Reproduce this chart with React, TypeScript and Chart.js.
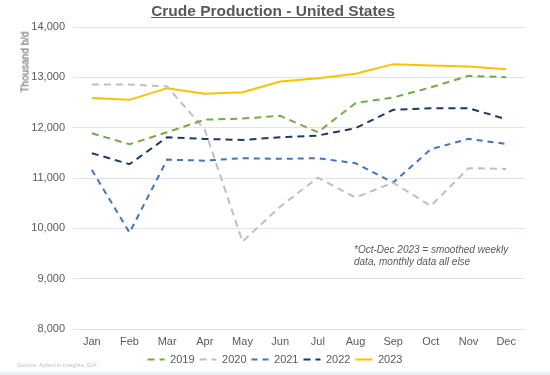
import React, { useEffect, useRef } from "react";
import { Chart, registerables } from "chart.js";

Chart.register(...registerables);

const months = ["Jan", "Feb", "Mar", "Apr", "May", "Jun", "Jul", "Aug", "Sep", "Oct", "Nov", "Dec"];
const years = ["2019", "2020", "2021", "2022", "2023"];
const y2019 = [11890, 11670, 11910, 12160, 12180, 12235, 11910, 12487, 12600, 12800, 13030, 13004];
const y2020 = [12857, 12857, 12817, 11960, 9736, 10431, 11008, 10610, 10909, 10445, 11195, 11181];
const y2021 = [11161, 9915, 11365, 11345, 11394, 11380, 11394, 11294, 10909, 11572, 11777, 11678];
const y2022 = [11493, 11274, 11811, 11777, 11755, 11811, 11843, 11990, 12354, 12388, 12388, 12169];
const y2023 = [12587, 12553, 12785, 12672, 12705, 12917, 12984, 13070, 13262, 13235, 13215, 13163];
const yMin = 8000;
const yMax = 14000;
const yStep = 1000;

const title = "Crude Production - United States";
const yTitle = "Thousand b/d";
const noteLines = ["*Oct-Dec 2023 = smoothed weekly", "data, monthly data all else"];
const source = "Source: Acheron Insights, EIA";

const FONT = "'Liberation Sans', Arial, Helvetica, sans-serif";
const TEXT = "#595959";

export default function App() {
  const ref = useRef<HTMLCanvasElement | null>(null);

  useEffect(() => {
    if (!ref.current) return;
    Chart.defaults.font.family = FONT;
    const series = [y2019, y2020, y2021, y2022, y2023];
    const colors = ["#70AD47", "#BFBFBF", "#4472C4", "#1F3864", "#FFC000"];
    const dashes = [[7, 5], [7, 5], [6, 5], [7, 5], []];
    const chart = new Chart(ref.current, {
      type: "line",
      data: {
        labels: months,
        datasets: series.map((d, i) => ({
          label: years[i],
          data: d,
          borderColor: colors[i],
          backgroundColor: colors[i],
          borderWidth: 2,
          borderDash: dashes[i],
          pointRadius: 0,
          pointStyle: "line",
          tension: 0,
          fill: false,
        })),
      },
      options: {
        responsive: false,
        animation: false,
        layout: { padding: { top: 27, right: 25, bottom: 0, left: 25 } },
        scales: {
          x: {
            offset: true,
            grid: { display: false, drawTicks: false },
            border: { display: false },
            ticks: { color: TEXT, font: { size: 11 }, padding: 6, maxRotation: 0 },
            afterFit: (s: any) => { s.height = 20; },
          },
          y: {
            min: yMin,
            max: yMax,
            grid: { color: "#DDE4EE", lineWidth: 1, drawTicks: false },
            border: { display: false },
            ticks: {
              stepSize: yStep,
              color: TEXT,
              font: { size: 11 },
              padding: 8,
              callback: (v: any) => Number(v).toLocaleString("en-US"),
            },
            afterFit: (s: any) => { s.width = 48; },
          },
        },
        plugins: {
          legend: {
            position: "bottom",
            labels: {
              usePointStyle: true,
              pointStyle: "line",
              pointStyleWidth: 17,
              boxHeight: 11,
              padding: 5,
              color: TEXT,
              font: { size: 11 },
              generateLabels: (c: any) => {
                const items = Chart.defaults.plugins.legend.labels.generateLabels(c);
                return items.map((it: any) => ({
                  ...it,
                  lineDash: c.data.datasets[it.datasetIndex].borderDash,
                  lineWidth: 2,
                  strokeStyle: c.data.datasets[it.datasetIndex].borderColor,
                }));
              },
            },
          },
          tooltip: { enabled: false },
        },
      },
    });
    return () => chart.destroy();
  }, []);

  return (
    <div style={{ position: "absolute", left: 0, top: 0, width: 550, height: 375, background: "#fff", fontFamily: FONT, overflow: "hidden" }}>
      <canvas ref={ref} width={550} height={375} style={{ position: "absolute", left: 0, top: 0 }} />
      <div style={{ position: "absolute", left: 0, width: 546, top: 1, textAlign: "center", fontSize: 15.5, fontWeight: "bold", color: TEXT, textDecoration: "underline", lineHeight: "19px" }}>
        {title}
      </div>
      <div style={{ position: "absolute", left: 25, top: 62, transform: "translate(-50%, -50%) rotate(-90deg)", fontSize: 10, color: TEXT, whiteSpace: "nowrap" }}>
        {yTitle}
      </div>
      <div style={{ position: "absolute", left: 354, top: 244, fontSize: 10, fontStyle: "italic", color: TEXT, lineHeight: "11.5px", whiteSpace: "nowrap" }}>
        {noteLines.map((l, i) => (<div key={i}>{l}</div>))}
      </div>
      <div style={{ position: "absolute", left: 17, top: 362, fontSize: 6, color: "#BFBFBF", whiteSpace: "nowrap" }}>
        {source}
      </div>
      <div style={{ position: "absolute", left: 0, bottom: 0, width: 550, height: 3, background: "#ECEFF4" }} />
    </div>
  );
}
